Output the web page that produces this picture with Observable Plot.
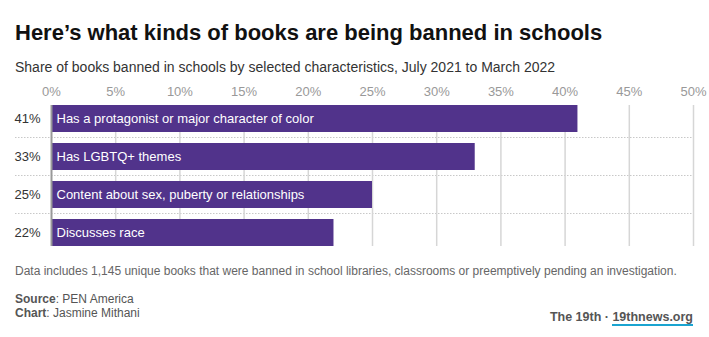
<!DOCTYPE html>
<html>
<head>
<meta charset="utf-8">
<script src="https://cdn.jsdelivr.net/npm/d3@7"></script>
<script src="https://cdn.jsdelivr.net/npm/@observablehq/plot@0.6"></script>
<style>
  body { margin: 0; background: #fff; font-family: "Liberation Sans", Arial, sans-serif; }
  #wrap { position: relative; width: 709px; height: 337px; overflow: hidden; }
  .t { position: absolute; left: 15px; white-space: nowrap; }
  #title { top: 20px; font-size: 22px; line-height: 25px; font-weight: bold; color: #111; }
  #sub { top: 59px; font-size: 14px; line-height: 17px; color: #333; }
  #chart { position: absolute; left: 0; top: 80px; }
  #note { top: 264px; font-size: 12px; line-height: 14px; color: #666; }
  #src { top: 292px; font-size: 12px; line-height: 14px; color: #555; }
  #brand { position: absolute; right: 16px; top: 310px; font-size: 12.5px; line-height: 15px; font-weight: bold; color: #555; white-space: nowrap; }
  #brand span { border-bottom: 2px solid #1aa4d0; padding-bottom: 0px; }
</style>
</head>
<body>
<div id="wrap">
  <div class="t" id="title">Here’s what kinds of books are being banned in schools</div>
  <div class="t" id="sub">Share of books banned in schools by selected characteristics, July 2021 to March 2022</div>
  <div id="chart"></div>
  <div class="t" id="note">Data includes 1,145 unique books that were banned in school libraries, classrooms or preemptively pending an investigation.</div>
  <div class="t" id="src"><b>Source</b>: PEN America<br><b>Chart</b>: Jasmine Mithani</div>
  <div id="brand">The 19th · <span>19thnews.org</span></div>
</div>
<script>
const categories = [
  "Has a protagonist or major character of color",
  "Has LGBTQ+ themes",
  "Content about sex, puberty or relationships",
  "Discusses race"
];
const values = [41, 33, 25, 22];
const xTicks = [0, 5, 10, 15, 20, 25, 30, 35, 40, 45, 50];

const data = categories.map((c, i) => ({category: c, value: values[i]}));
const purple = "#51338b";

const plot = Plot.plot({
  width: 709,
  height: 170,
  marginLeft: 51,
  marginRight: 16,
  marginTop: 25,
  marginBottom: 4,
  style: {fontFamily: "Liberation Sans, Arial, sans-serif", fontSize: "13px", background: "transparent"},
  x: {domain: [0, 50], ticks: xTicks, axis: null},
  y: {domain: categories, padding: 0.3, paddingOuter: 0, align: 0, axis: null},
  marks: [
    Plot.ruleX(xTicks.filter(d => d > 0), {x: d => d, stroke: "#d6d6d6", strokeWidth: 1.5}),
    Plot.barX(data, {y: "category", x: "value", fill: purple}),
    Plot.ruleX([0], {stroke: "#999", strokeWidth: 2}),
    Plot.text(xTicks, {x: d => d, text: d => d + "%", frameAnchor: "top", dy: -19, fill: "#999", fontSize: 13}),
    Plot.text(data, {y: "category", x: 0, text: d => d.value + "%", textAnchor: "end", dx: -11, fill: "#333", fontSize: 13}),
    Plot.text(data, {y: "category", x: 0, text: "category", textAnchor: "start", dx: 5, fill: "#fff", fontSize: 13})
  ]
});
document.getElementById("chart").appendChild(plot);

// dotted separators between bands, positioned from the plot's y scale
const ys = plot.scale("y");
const xs = plot.scale("x");
const svg = d3.select(plot);
const step = ys.step, bw = ys.bandwidth;
for (let i = 0; i < categories.length - 1; i++) {
  const y0 = ys.apply(categories[i]) + bw + (step - bw) / 2;
  svg.insert("line", ":first-child")
    .attr("x1", 15).attr("x2", xs.apply(50))
    .attr("y1", y0).attr("y2", y0)
    .attr("stroke", "#c8c8c8").attr("stroke-width", 1)
    .attr("stroke-dasharray", "1.5,1.5");
}
</script>
</body>
</html>
